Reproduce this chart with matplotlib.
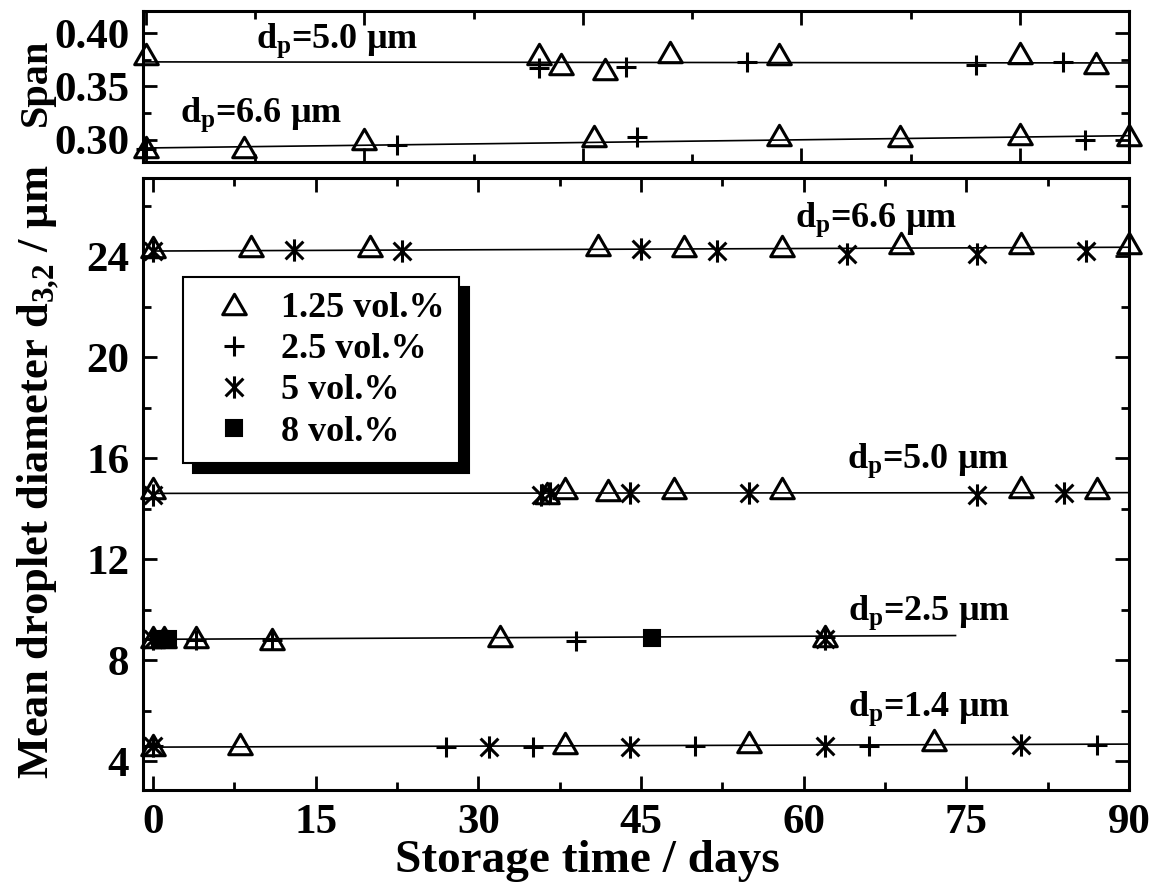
import matplotlib
matplotlib.use("Agg")
import matplotlib.pyplot as plt
from matplotlib.path import Path
from matplotlib.lines import Line2D
from matplotlib.ticker import MultipleLocator, FormatStrFormatter

plt.rcParams["font.family"] = ["Liberation Serif", "DejaVu Serif"]
plt.rcParams["font.weight"] = "bold"
plt.rcParams["axes.labelweight"] = "bold"
plt.rcParams["mathtext.default"] = "regular"

# ---- span panel (top) ----
span50_tri_x = [0, 36, 38, 42, 48, 58, 80, 87]
span50_tri_y = [0.380, 0.380, 0.371, 0.366, 0.382, 0.380, 0.381, 0.372]
span50_plus_x = [36, 44, 55, 76, 84]
span50_plus_y = [0.367, 0.368, 0.373, 0.370, 0.373]
span50_fit_y = [0.373, 0.372]
span66_tri_x = [0, 9, 20, 41, 58, 69, 80, 90]
span66_tri_y = [0.293, 0.293, 0.301, 0.304, 0.305, 0.304, 0.306, 0.305]
span66_plus_x = [0, 23, 45, 86]
span66_plus_y = [0.292, 0.295, 0.303, 0.300]
span66_fit_y = [0.2925, 0.304]
fit_x = [0, 90]

# ---- mean droplet diameter (main) ----
d66_tri_x = [0, 9, 20, 41, 49, 58, 69, 80, 90]
d66_tri_y = [24.35, 24.4, 24.4, 24.45, 24.4, 24.4, 24.5, 24.5, 24.5]
d66_ast_x = [0, 13, 23, 45, 52, 64, 76, 86]
d66_ast_y = [24.2, 24.25, 24.2, 24.3, 24.2, 24.1, 24.1, 24.2]
d66_fit_y = [24.2, 24.35]

d50_tri_x = [0, 36.3, 38, 42, 48, 58, 80, 87]
d50_tri_y = [14.8, 14.6, 14.8, 14.75, 14.8, 14.8, 14.85, 14.8]
d50_ast_x = [0, 35.8, 36.6, 44, 55, 76, 84]
d50_ast_y = [14.55, 14.55, 14.6, 14.6, 14.6, 14.55, 14.6]
d50_fit_y = [14.6, 14.63]

d25_tri_x = [0, 1.0, 4, 11, 32, 62]
d25_tri_y = [8.9, 8.9, 8.9, 8.85, 8.95, 8.95]
d25_plus_x = [0, 4, 11, 39, 62]
d25_plus_y = [8.85, 8.8, 8.8, 8.75, 8.9]
d25_ast_x = [0, 62]
d25_ast_y = [8.85, 8.85]
d25_sq_x = [0.6, 1.4, 46]
d25_sq_y = [8.85, 8.85, 8.88]
d25_fit_x = [0, 74]
d25_fit_y = [8.82, 8.97]

d14_tri_x = [0, 8, 38, 55, 72]
d14_tri_y = [4.65, 4.67, 4.72, 4.75, 4.85]
d14_plus_x = [0, 27, 35, 50, 66, 87]
d14_plus_y = [4.6, 4.55, 4.57, 4.6, 4.6, 4.63]
d14_ast_x = [0, 31, 44, 62, 80]
d14_ast_y = [4.6, 4.55, 4.57, 4.6, 4.65]
d14_fit_y = [4.55, 4.67]

legend_labels = ["1.25 vol.%", "2.5 vol.%", "5 vol.%", "8 vol.%"]

TRI = Path([(-1, -0.866), (1, -0.866), (0, 0.866), (-1, -0.866)],
           [Path.MOVETO, Path.LINETO, Path.LINETO, Path.CLOSEPOLY])
AST = Path([(0, -1), (0, 1), (-0.8, -0.8), (0.8, 0.8), (-0.8, 0.8), (0.8, -0.8)],
           [Path.MOVETO, Path.LINETO] * 3)

sty = {
    "tri": dict(marker=TRI, ms=17, mfc="none", mec="k", mew=2.2),
    "plus": dict(marker="+", ms=15, mec="k", mew=2.2),
    "ast": dict(marker=AST, ms=16, mfc="none", mec="k", mew=2.2),
    "sq": dict(marker="s", ms=12, mfc="k", mec="k", mew=1.5),
}

def pts(ax, x, y, kind):
    ax.plot(x, y, ls="none", clip_on=False, zorder=3, **sty[kind])

def fit(ax, x, y):
    ax.plot(x, y, color="k", lw=1.2, zorder=2)

def style(ax):
    for s in ax.spines.values():
        s.set_linewidth(2.2)
    ax.tick_params(which="both", direction="in", top=True, right=True, width=2,
                   labelsize=31, pad=10)
    ax.tick_params(which="major", length=10)
    ax.tick_params(which="minor", length=6)

fig = plt.figure(figsize=(11.63, 8.93), dpi=100)
ax_s = fig.add_axes([0.123, 0.8186, 0.8478, 0.1691])
ax = fig.add_axes([0.123, 0.1153, 0.8478, 0.6853])

# span panel
fit(ax_s, fit_x, span50_fit_y)
fit(ax_s, fit_x, span66_fit_y)
pts(ax_s, span50_tri_x, span50_tri_y, "tri")
pts(ax_s, span50_plus_x, span50_plus_y, "plus")
pts(ax_s, span66_tri_x, span66_tri_y, "tri")
pts(ax_s, span66_plus_x, span66_plus_y, "plus")
ax_s.set_xlim(-0.25, 90)
ax_s.set_ylim(0.2794, 0.4206)
ax_s.xaxis.set_major_locator(MultipleLocator(20))
ax_s.xaxis.set_minor_locator(MultipleLocator(10))
ax_s.yaxis.set_major_locator(MultipleLocator(0.05))
ax_s.yaxis.set_minor_locator(MultipleLocator(0.025))
ax_s.yaxis.set_major_formatter(FormatStrFormatter("%.2f"))
style(ax_s)
ax_s.tick_params(labelbottom=False)
ax_s.set_ylabel("Span", fontsize=29)
ax_s.yaxis.set_label_coords(-0.089, 0.53)
ax_s.text(10.1, 0.386, r"d$_p$=5.0 µm", fontsize=26, va="baseline")
ax_s.text(3.1, 0.317, r"d$_p$=6.6 µm", fontsize=26, va="baseline")

# main panel
fit(ax, fit_x, d66_fit_y)
fit(ax, fit_x, d50_fit_y)
fit(ax, d25_fit_x, d25_fit_y)
fit(ax, fit_x, d14_fit_y)
pts(ax, d66_tri_x, d66_tri_y, "tri")
pts(ax, d66_ast_x, d66_ast_y, "ast")
pts(ax, d50_tri_x, d50_tri_y, "tri")
pts(ax, d50_ast_x, d50_ast_y, "ast")
pts(ax, d25_tri_x, d25_tri_y, "tri")
pts(ax, d25_plus_x, d25_plus_y, "plus")
pts(ax, d25_ast_x, d25_ast_y, "ast")
pts(ax, d25_sq_x, d25_sq_y, "sq")
pts(ax, d14_tri_x, d14_tri_y, "tri")
pts(ax, d14_plus_x, d14_plus_y, "plus")
pts(ax, d14_ast_x, d14_ast_y, "ast")

ax.set_xlim(-0.92, 90)
ax.set_ylim(2.85, 27.09)
ax.xaxis.set_major_locator(MultipleLocator(15))
ax.xaxis.set_minor_locator(MultipleLocator(7.5))
ax.yaxis.set_major_locator(MultipleLocator(4))
ax.yaxis.set_minor_locator(MultipleLocator(2))
style(ax)
ax.set_xlabel("Storage time / days", fontsize=34)
ax.xaxis.set_label_coords(0.451, -0.082)
ax.set_ylabel(r"Mean droplet diameter d$_{3{,}2}$ / µm", fontsize=32)
ax.yaxis.set_label_coords(-0.083, 0.52)

ax.text(59.2, 25.15, r"d$_p$=6.6 µm", fontsize=26, va="baseline")
ax.text(64.0, 15.6, r"d$_p$=5.0 µm", fontsize=26, va="baseline")
ax.text(64.1, 9.6, r"d$_p$=2.5 µm", fontsize=26, va="baseline")
ax.text(64.1, 5.78, r"d$_p$=1.4 µm", fontsize=26, va="baseline")

handles = [Line2D([], [], ls="none", **sty[k]) for k in ["tri", "plus", "ast", "sq"]]
leg = ax.legend(handles, legend_labels, loc="upper left", bbox_to_anchor=(0.041, 0.838),
                borderaxespad=0, fontsize=26, frameon=True, fancybox=False,
                edgecolor="k", framealpha=1, handlelength=2.0, handletextpad=0.3,
                borderpad=0.4, labelspacing=0.22,
                shadow={"ox": 7.2, "oy": -7.2, "color": "k", "alpha": 1})
leg.get_frame().set_linewidth(1.5)

fig.savefig("out.png", dpi=100)
